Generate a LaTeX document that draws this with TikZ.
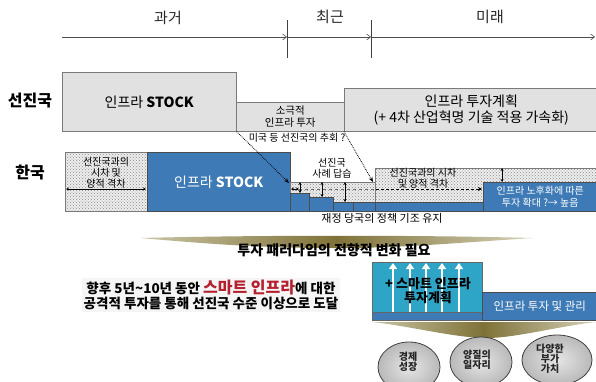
\documentclass[tikz,border=0pt]{standalone}
\usepackage{fontspec}
\setmainfont{Noto Sans CJK KR}
\usetikzlibrary{patterns,arrows.meta,shapes.geometric}
\definecolor{boxgray}{HTML}{E1E1E1}
\definecolor{edgegray}{HTML}{7A7A7A}
\definecolor{kblue}{HTML}{3E7AB6}
\definecolor{kteal}{HTML}{2EA4C6}
\definecolor{olivedk}{HTML}{7F7238}
\definecolor{olivelt}{HTML}{C9C5A5}
\definecolor{redtxt}{HTML}{B5202E}
\definecolor{hatchbg}{HTML}{EDEDED}
\newcommand{\fsz}[2]{\fontsize{#1}{#2}\selectfont}
\begin{document}
\begin{tikzpicture}[x=1pt,y=-1pt,
  tl/.style={draw=black!70, line width=0.6pt, -{Straight Barb[length=4pt,width=6pt]}},
  tickln/.style={draw=black!75, line width=0.7pt},
  period/.style={font=\fsz{15}{17}, text=black!85, inner sep=0pt},
  country/.style={font=\fsz{16}{18}\bfseries, inner sep=0pt},
  graybox/.style={draw=edgegray, fill=boxgray, line width=0.6pt, inner sep=0pt, anchor=north west},
  hatchbox/.style={draw=edgegray, line width=0.5pt, preaction={fill=hatchbg}, pattern=crosshatch dots, pattern color=black!45},
  bluebox/.style={draw=black!70, fill=kblue, line width=0.6pt, inner sep=0pt, anchor=north west, text=white},
  stepblk/.style={draw=black!70, fill=kblue, line width=0.6pt},
  small/.style={font=\fsz{10}{11}, align=center, inner sep=0pt},
  dbl/.style={{Stealth[length=3pt,width=3pt]}-{Stealth[length=3pt,width=3pt]}, line width=0.6pt},
  dotarr/.style={densely dotted, line width=0.8pt, -{Stealth[length=5pt,width=4pt]}},
  uparr/.style={white, line width=2.2pt, -{Triangle[length=6pt,width=8pt]}},
  ell/.style={ellipse, draw=black!75, line width=0.8pt, inner color=gray!20, outer color=gray!55, inner sep=0pt},
  etxt/.style={font=\fsz{10}{10}\bfseries, align=center, inner sep=0pt, text=black!85},
]
\useasboundingbox (0,0) rectangle (596,381);

% timeline
\node[period] (past) at (168,18) {과거};
\node[period] (recent) at (330,17) {최근};
\node[period] (future) at (490,17) {미래};
\coordinate (t0) at (62,37);
\coordinate (t1) at (287,37);
\coordinate (t2) at (371,37);
\coordinate (t3) at (595,37);
\draw[tl] (t0) -- (t1);
\draw[tl] (t1) -- (t2);
\draw[tl] (t2) -- (t3);
\coordinate (k1a) at (287,20);
\coordinate (k1b) at (287,58);
\coordinate (k2a) at (371,20);
\coordinate (k2b) at (371,58);
\draw[tickln] (k1a) -- (k1b);
\draw[tickln] (k2a) -- (k2b);

% countries
\node[country] (adv) at (30,101) {선진국};
\node[country] (kor) at (30,172) {한국};

% advanced row
\node[graybox, minimum width=174pt, minimum height=59pt, font=\fsz{14}{16}] (advstock) at (62,72) {인프라 \textbf{STOCK}};
\node[graybox, minimum width=108pt, minimum height=29pt, align=center, font=\fsz{10.5}{12.5}] (passive) at (236,102) {소극적\\인프라 투자};
\node[graybox, minimum width=254pt, minimum height=43pt, align=center, font=\fsz{14}{16}] (plan) at (344,88) {인프라 투자계획\\(+ 4차 산업혁명 기술 적용 가속화)};

% korea row
\node[hatchbox, minimum width=82pt, minimum height=59pt, anchor=north west, inner sep=0pt] (gap1) at (65,152) {};
\node[small, anchor=north] (gap1t) at (106,157) {선진국과의\\시차 및\\양적 격차};
\coordinate (g1l) at (66,189);
\coordinate (g1r) at (146,189);
\draw[dbl] (g1l) -- (g1r);
\node[bluebox, minimum width=143pt, minimum height=59pt, font=\fsz{14}{16}] (kstock) at (147,152) {인프라 \textbf{STOCK}};

\draw[hatchbox] (290,182) rectangle (375,211);
\draw[hatchbox] (375,168) rectangle (597,211);
\draw[dashed, black!60, line width=0.5pt] (299,189) -- (375,189);
\draw[stepblk] (290,193) rectangle (309,211);
\draw[stepblk] (309,197) rectangle (333,211);
\draw[stepblk] (333,202) rectangle (353,211);
\draw[stepblk] (353,202) rectangle (375,211);
\draw[stepblk] (375,202) rectangle (483,211);
\node[bluebox, minimum width=114pt, minimum height=29pt, align=center, font=\fsz{10}{12}] (aging) at (483,182) {인프라 노후화에 따른\\투자 확대 ?→ 높음};

\coordinate (h1) at (291,189);
\coordinate (h2) at (299,189);
\draw[dbl] (h1) -- (h2);
\coordinate (v1a) at (300,182);
\coordinate (v1b) at (300,193);
\coordinate (v2a) at (322,182);
\coordinate (v2b) at (322,197);
\coordinate (v3a) at (345,182);
\coordinate (v3b) at (345,202);
\coordinate (v4a) at (502,168);
\coordinate (v4b) at (502,182);
\draw[dbl] (v1a) -- (v1b);
\draw[dbl] (v2a) -- (v2b);
\draw[dbl] (v3a) -- (v3b);
\draw[dbl] (v4a) -- (v4b);
\coordinate (ha) at (376,189);
\coordinate (hb) at (482,189);
\draw[densely dashed, line width=0.6pt, -{Stealth[length=4pt,width=4pt]}] (ha) -- (hb);

\node[small] (copy) at (332,168) {선진국\\사례 답습};
\node[small] (gap2t) at (423,178) {선진국과의 시차\\및 양적 격차};
\node[font=\fsz{11}{12}, inner sep=0pt] (fiscal) at (382,218) {재정 당국의 정책 기조 유지};

% catch-up
\node[font=\fsz{10}{12}, inner sep=0pt] (catch) at (297,138) {미국 등 선진국의 추회 ?};
\coordinate (d1) at (289,183);
\coordinate (d2) at (373,182);
\draw[dotarr] (advstock.south east) -- (d1);
\draw[dotarr] (plan.south west) -- (d2);

% paradigm band
\shade[left color=olivelt, right color=olivelt!80, middle color=olivedk]
  (140,238) .. controls (260,235) and (420,235) .. (533,238)
  .. controls (440,244) and (400,248) .. (336,248)
  .. controls (260,248) and (210,244) .. (140,238) -- cycle;
\node[font=\fsz{14}{16}\bfseries, inner sep=0pt] (paradigm) at (334,250) {투자 패러다임의 전향적 변화 필요};

% goal text
\node[font=\fsz{13.5}{15}\bfseries, align=center, fill=black!4, inner sep=2pt] (goal) at (211,295)
  {향후 5년\textasciitilde10년 동안 {\color{redtxt}\fsz{16}{16}스마트 인프라}에 대한\\공격적 투자를 통해 선진국 수준 이상으로 도달};

% smart box
\node[draw=black!60, fill=kteal, minimum width=110pt, minimum height=58pt, anchor=north west, inner sep=0pt] (smart) at (372,262) {};
\node[draw=black!60, fill=kblue, minimum width=110pt, minimum height=8pt, anchor=north west, inner sep=0pt] (strip) at (372,312) {};
\foreach \xx in {393,410,426,442,459}{
  \coordinate (ua) at (\xx,312);
  \coordinate (ub) at (\xx,263);
  \draw[uparr] (ua) -- (ub);
}
\node[font=\fsz{13}{14}\bfseries, align=center, inner sep=0pt] (smartt) at (428,291) {+ 스마트 인프라\\투자계획};
\node[bluebox, minimum width=115pt, minimum height=28pt, font=\fsz{11.5}{13}] (mgmt) at (482,292) {인프라 투자 및 관리};

% lower funnel
\shade[left color=olivelt, right color=olivelt!80, middle color=olivedk]
  (372,322) -- (596,322) .. controls (560,326) and (515,338) .. (487,338)
  .. controls (455,338) and (410,326) .. (372,322) -- cycle;

% outcomes
\node[ell, minimum width=62pt, minimum height=50pt] (e1) at (409,367) {};
\node[ell, minimum width=62pt, minimum height=50pt] (e2) at (481,362) {};
\node[ell, minimum width=70pt, minimum height=50pt] (e3) at (557,360) {};
\node[etxt] (e1t) at (408,362) {경제\\성장};
\node[etxt] (e2t) at (477,360) {양질의\\일자리};
\node[etxt] (e3t) at (550,359) {다양한\\부가\\가치};
\end{tikzpicture}
\end{document}
